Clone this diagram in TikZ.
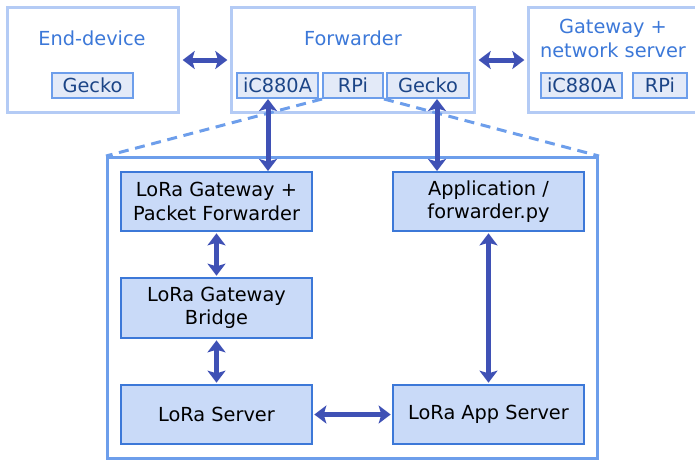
\documentclass[tikz,border=0pt]{standalone}
\usepackage{fontspec}
\setmainfont{DejaVu Sans}
\usetikzlibrary{arrows.meta}
\definecolor{titleblue}{HTML}{3C78D8}
\definecolor{outerblue}{HTML}{B4CBF5}
\definecolor{chipfill}{HTML}{E3EAF8}
\definecolor{chipline}{HTML}{6D9EEB}
\definecolor{chiptext}{HTML}{1C4587}
\definecolor{boxfill}{HTML}{C9DAF8}
\definecolor{boxline}{HTML}{3C78D8}
\definecolor{arrowblue}{HTML}{3F51B5}
\begin{document}
\begin{tikzpicture}[x=0.75pt, y=-0.75pt,
    font=\fontsize{14.5}{17.4}\selectfont,
    outerbox/.style={draw=outerblue, line width=2.25pt, minimum height=78.75pt, inner sep=0pt},
    title/.style={text=titleblue, align=center, inner sep=0pt},
    chip/.style={draw=chipline, fill=chipfill, text=chiptext, line width=1.5pt, minimum height=18.75pt, inner sep=0pt},
    block/.style={draw=boxline, fill=boxfill, line width=1.5pt, minimum width=143.25pt, minimum height=44.25pt, align=center, inner sep=0pt},
    link/.style={draw=arrowblue, line width=3.75pt,
        {Stealth[inset=2pt,length=9pt,width=13.5pt]}-{Stealth[inset=2pt,length=9pt,width=13.5pt]}}]
    \useasboundingbox (0,0) rectangle (695,462);
    \clip (0,0) rectangle (695,462);

    % 上排三个设备
    \node[outerbox, minimum width=128.25pt] (enddev) at (93,60) {};
    \node[outerbox, minimum width=182.25pt] (fwd) at (353,60) {};
    \node[outerbox, minimum width=128.25pt] (gw) at (614,60) {};
    \node[title] (enddev-t) at (92,38) {End-device};
    \node[title] (fwd-t) at (353,38) {Forwarder};
    \node[title] (gw-t) at (613,38.5) {Gateway +\\network server};

    % 硬件模块
    \node[chip, minimum width=60.75pt] (gecko1) at (92.5,85.5) {Gecko};
    \node[chip, minimum width=60.75pt] (ica1) at (277.5,85.5) {iC880A};
    \node[chip, minimum width=45pt] (rpi1) at (353,85.5) {RPi};
    \node[chip, minimum width=61.5pt] (gecko2) at (428,85.5) {Gecko};
    \node[chip, minimum width=60.75pt] (ica2) at (581.5,85.5) {iC880A};
    \node[chip, minimum width=40.5pt] (rpi2) at (660,85.5) {RPi};

    % RPi 内部软件
    \node[draw=chipline, line width=2.25pt, minimum width=367.5pt, minimum height=225.75pt, inner sep=0pt] (core) at (352.5,308) {};
    \node[block] (gwpf) at (216.5,201.5) {LoRa Gateway +\\Packet Forwarder};
    \node[block] (app) at (488.5,201.5) {Application /\\forwarder.py};
    \node[block, minimum height=45pt] (bridge) at (216.5,308) {LoRa Gateway\\Bridge};
    \node[block] (server) at (216.5,414.5) {LoRa Server};
    \node[block] (appsrv) at (488.5,414.5) {LoRa App Server};

    % 放大虚线
    \draw[chipline, line width=2.25pt, dash pattern=on 7.5pt off 5pt] (rpi1.south west) -- (core.north west);
    \draw[chipline, line width=2.25pt, dash pattern=on 7.5pt off 5pt] (rpi1.south east) -- (core.north east);

    % 连接
    \draw[link, shorten <=2pt, shorten >=2pt] (enddev.east) -- (fwd.west);
    \draw[link, shorten <=2pt, shorten >=2pt] (fwd.east) -- (gw.west);
    \draw[link] ([xshift=-7.125pt]ica1.south) -- ([xshift=-7.125pt]ica1.south |- gwpf.north);
    \draw[link] ([xshift=6.75pt]gecko2.south) -- ([xshift=6.75pt]gecko2.south |- app.north);
    \draw[link, shorten <=1pt, shorten >=1pt] (gwpf.south) -- (bridge.north);
    \draw[link, shorten <=1pt, shorten >=1pt] (bridge.south) -- (server.north);
    \draw[link, shorten <=1pt, shorten >=1pt] (app.south) -- (appsrv.north);
    \draw[link, shorten <=1pt, shorten >=1pt] (server.east) -- (appsrv.west);
\end{tikzpicture}
\end{document}
